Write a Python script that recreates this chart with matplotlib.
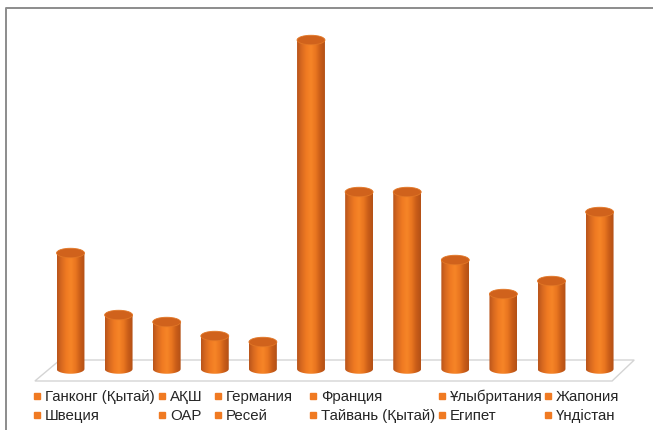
import numpy as np
import matplotlib
matplotlib.use("Agg")
import matplotlib.pyplot as plt
from matplotlib.path import Path
from matplotlib.patches import PathPatch, Ellipse, Polygon
from matplotlib.colors import LinearSegmentedColormap
from matplotlib.lines import Line2D

plt.rcParams['font.family'] = ['Liberation Sans', 'DejaVu Sans']

# Елдер мен мәндер
countries = ['Ганконг (Қытай)', 'АҚШ', 'Германия', 'Франция', 'Ұлыбритания', 'Жапония',
             'Швеция', 'ОАР', 'Ресей', 'Тайвань (Қытай)', 'Египет', 'Үндістан']
values = [116, 54, 47, 33, 27, 329, 177, 177, 109, 75, 88, 157]

# Цилиндрлердің түсі
body_cmap = LinearSegmentedColormap.from_list(
    'cyl', ['#b8541b', '#d96a20', '#f07a22', '#f68527', '#ea7620', '#c95d18', '#b35016'])
top_color = '#d0621c'
legend_color = '#f07a22'

W, H = 653, 431
fig = plt.figure(figsize=(W / 100, H / 100), dpi=100)
ax = fig.add_axes([0, 0, 1, 1])
step = 48.1
x0 = 70.5
base = 61
ax.set_xlim(-x0 / step, (W - x0) / step)
ax.set_ylim(-base, H - base)
ax.axis('off')

n = len(values)
half = 0.29       # жарты ені (санат бірлігімен)
eh = 9.5          # эллипс биіктігі

# Еден
floor = Polygon([(-0.74, -12), (-0.22, 9), (n - 1 + 0.72, 9), (n - 1 + 0.26, -12)],
                closed=True, facecolor='white', edgecolor='#d4d4d4', lw=1.0, zorder=1)
ax.add_patch(floor)

grad = np.linspace(0, 1, 256).reshape(1, -1)
for i, v in enumerate(values):
    xl, xr = i - half, i + half
    t = np.linspace(np.pi, 2 * np.pi, 40)
    bx = i + half * np.cos(t)
    by = (eh / 2) * np.sin(t)
    verts = [(xl, v)] + list(zip(bx, by)) + [(xr, v), (xl, v)]
    codes = [Path.MOVETO] + [Path.LINETO] * (len(verts) - 2) + [Path.CLOSEPOLY]
    clip = PathPatch(Path(verts, codes), facecolor='none', edgecolor='none')
    ax.add_patch(clip)
    im = ax.imshow(grad, cmap=body_cmap, aspect='auto',
                   extent=(xl, xr, -eh / 2 - 1, v), zorder=2, interpolation='bilinear')
    im.set_clip_path(clip)
    ax.add_patch(Ellipse((i, v), 2 * half, eh, facecolor=top_color,
                         edgecolor='#e27726', lw=0.6, zorder=3))

# Легенда
col_x = [37, 162, 218, 313, 442, 548]
row_y = [397, 416]
for k, name in enumerate(countries):
    r, c = divmod(k, 6)
    px, py = col_x[c], H - row_y[r]
    fig.add_artist(Line2D([px / W], [py / H], marker='s', markersize=4.2,
                          color=legend_color, ls='none', transform=fig.transFigure))
    fig.text((px + 8) / W, py / H, name, fontsize=10.8, color='#262626',
             va='center', ha='left')

# Жиек
fig.add_artist(Line2D([5.5 / W, 5.5 / W, 1], [0, 1 - 9 / H, 1 - 9 / H],
                      color='#8c8c8c', lw=1.4, transform=fig.transFigure))

fig.savefig('out.png', dpi=100)
